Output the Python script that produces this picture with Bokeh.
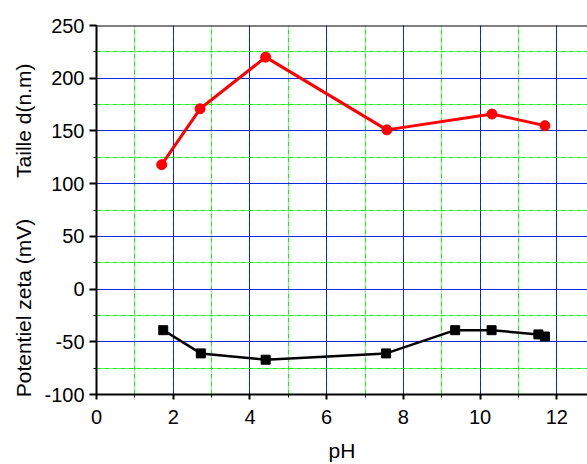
import math
from bokeh.plotting import figure
from bokeh.models import SingleIntervalTicker, Span, Range1d
from bokeh.embed import file_html
from bokeh.resources import INLINE

# Data
ph_taille = [1.70, 2.70, 4.41, 7.57, 10.31, 11.69]
taille = [118, 171, 220, 151, 166, 155]

ph_zeta = [1.74, 2.72, 4.41, 7.55, 9.35, 10.30, 11.52, 11.69]
zeta = [-39, -61, -67, -61, -39, -39, -43, -45]

x_label = "pH"
y_label_top = "Taille d(n.m)"
y_label_bottom = "Potentiel zeta (mV)"
y_neg_ticks = {-50: "-50", -100: "-100"}

FONT = "Liberation Sans"
NB = "\u00a0"

p = figure(width=587, height=464, output_backend="svg", toolbar_location=None,
           x_range=Range1d(0, 12.8), y_range=Range1d(-100, 250),
           min_border_left=96, min_border_top=25, min_border_right=0,
           min_border_bottom=69)
p.outline_line_color = None
p.background_fill_color = "white"
p.border_fill_color = "white"

p.xaxis.ticker = SingleIntervalTicker(interval=2, num_minor_ticks=2)
p.yaxis.ticker = SingleIntervalTicker(interval=50, num_minor_ticks=2)

for ax in (p.xaxis, p.yaxis):
    ax.axis_line_color = "black"
    ax.axis_line_width = 2
    ax.major_tick_line_color = "black"
    ax.major_tick_line_width = 2
    ax.minor_tick_line_color = "black"
    ax.minor_tick_line_width = 1
    ax.major_tick_in = 0
    ax.minor_tick_in = 0
    ax.major_label_text_font = FONT
    ax.major_label_text_font_size = "20px"
    ax.major_label_text_color = "black"
    ax.axis_label_text_font = FONT
    ax.axis_label_text_font_size = "21px"
    ax.axis_label_text_font_style = "normal"
    ax.axis_label_text_color = "black"

p.xaxis.major_tick_out = 5
p.xaxis.minor_tick_out = 3
p.yaxis.major_tick_out = 7
p.yaxis.minor_tick_out = 3
p.xaxis.major_label_standoff = 10
p.yaxis.major_label_standoff = 5
p.yaxis.major_label_overrides = y_neg_ticks
p.xaxis.axis_label = x_label
p.xaxis.axis_label_standoff = 12
p.yaxis.axis_label = y_label_bottom + NB * 7 + y_label_top + NB * 7
p.yaxis.axis_label_standoff = 6

for g in (p.xgrid, p.ygrid):
    g.grid_line_color = "#0000ff"
    g.grid_line_width = 1
    g.grid_line_alpha = 0.85
    g.minor_grid_line_color = "#00ff00"
    g.minor_grid_line_width = 1
    g.minor_grid_line_dash = "5 1 1 1"

p.add_layout(Span(location=250, dimension="width", line_color="black", line_width=2))

p.line(ph_taille, taille, line_color="#ff0000", line_width=3)
p.scatter(ph_taille, taille, marker="circle", size=10, fill_color="#ff0000", line_color="#ff0000")

p.line(ph_zeta, zeta, line_color="black", line_width=2.5)
p.scatter(ph_zeta, zeta, marker="square", size=9, fill_color="black", line_color="black")

open("out.html", "w").write(file_html(p, INLINE))
